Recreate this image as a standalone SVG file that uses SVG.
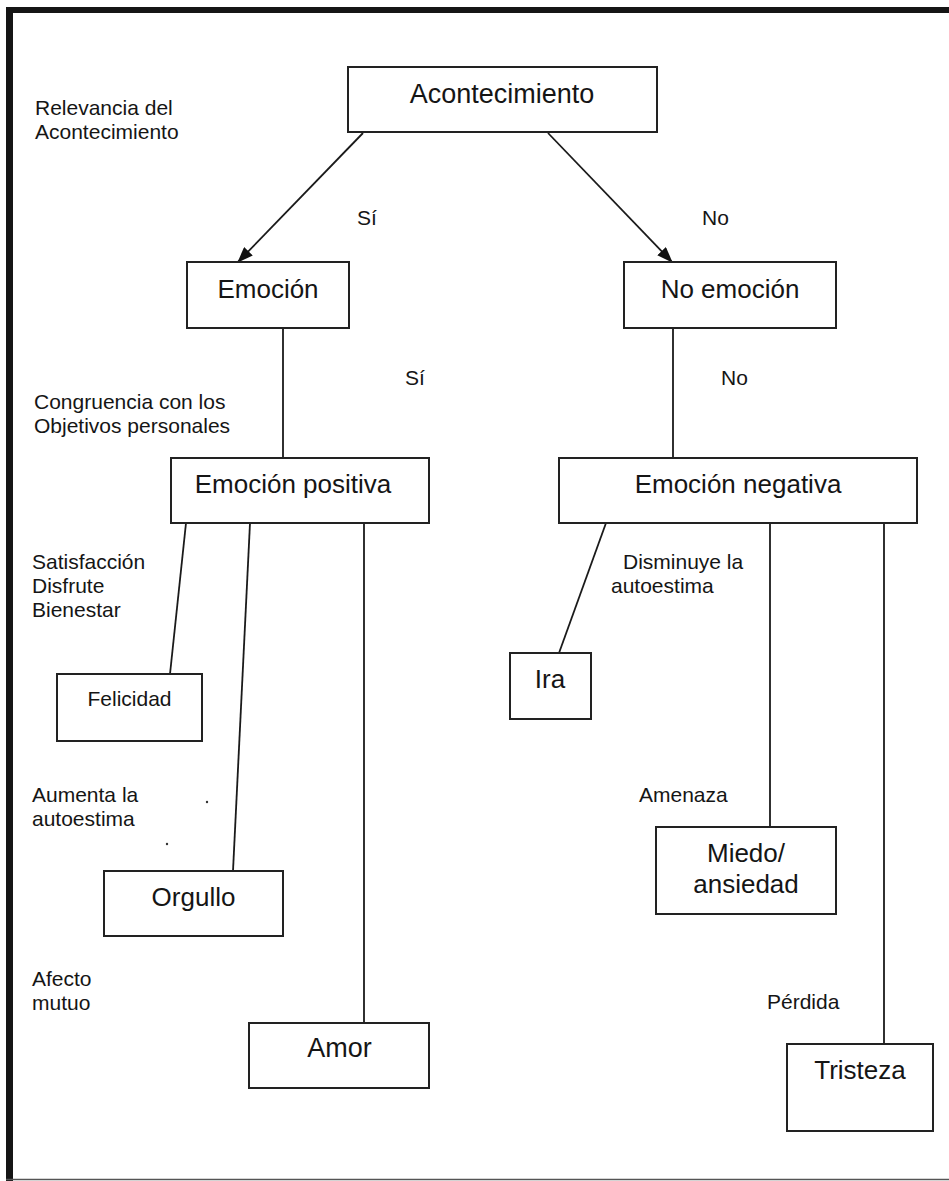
<svg xmlns="http://www.w3.org/2000/svg" width="949" height="1181" viewBox="0 0 949 1181">
<style>
text{font-family:"Liberation Sans",Arial,sans-serif;fill:#151515}
.lbl{font-size:21px}
.big{font-size:26px;text-anchor:middle}
.box{fill:#fff;stroke:#222;stroke-width:2}
.ln{stroke:#1a1a1a;stroke-width:1.8;fill:none}
</style>
<defs>
<marker id="ah" viewBox="0 0 16 12" refX="15" refY="6" markerWidth="16" markerHeight="12" markerUnits="userSpaceOnUse" orient="auto">
<path d="M0,0 L16,6 L0,12 Z" fill="#111"/>
</marker>
</defs>
<rect width="949" height="1181" fill="#fff"/>
<g id="frame">
<rect x="6" y="7" width="943" height="6" fill="#151515"/>
<rect x="6" y="7" width="7" height="1174" fill="#151515"/>
<line x1="6" y1="1179.5" x2="949" y2="1179.5" stroke="#555" stroke-width="1.5"/>
</g>
<g id="connectors">
<line class="ln" x1="363" y1="133" x2="238" y2="262" marker-end="url(#ah)"/>
<line class="ln" x1="548" y1="133" x2="672" y2="262" marker-end="url(#ah)"/>
<line class="ln" x1="283" y1="328" x2="283" y2="458"/>
<line class="ln" x1="673" y1="328" x2="673" y2="458"/>
<line class="ln" x1="186" y1="523" x2="170" y2="674"/>
<line class="ln" x1="250" y1="523" x2="233" y2="871"/>
<line class="ln" x1="364" y1="523" x2="364" y2="1023"/>
<line class="ln" x1="606" y1="523" x2="559" y2="653"/>
<line class="ln" x1="770" y1="523" x2="770" y2="827"/>
<line class="ln" x1="884" y1="523" x2="884" y2="1044"/>
</g>
<g id="labels">
<text class="lbl" x="35" y="115">Relevancia del</text>
<text class="lbl" x="35" y="139">Acontecimiento</text>
<text class="lbl" x="357" y="225">Sí</text>
<text class="lbl" x="702" y="225">No</text>
<text class="lbl" x="405" y="385">Sí</text>
<text class="lbl" x="721" y="385">No</text>
<text class="lbl" x="34" y="409">Congruencia con los</text>
<text class="lbl" x="34" y="433">Objetivos personales</text>
<text class="lbl" x="32" y="569">Satisfacción</text>
<text class="lbl" x="32" y="593">Disfrute</text>
<text class="lbl" x="32" y="617">Bienestar</text>
<text class="lbl" x="623" y="569">Disminuye la</text>
<text class="lbl" x="611" y="593">autoestima</text>
<text class="lbl" x="32" y="802">Aumenta la</text>
<text class="lbl" x="32" y="826">autoestima</text>
<text class="lbl" x="639" y="802">Amenaza</text>
<text class="lbl" x="32" y="986">Afecto</text>
<text class="lbl" x="32" y="1010">mutuo</text>
<text class="lbl" x="767" y="1009">Pérdida</text>
<circle cx="207" cy="802" r="1.2" fill="#333"/>
<circle cx="167" cy="844" r="1.2" fill="#333"/>
</g>
<g id="acontecimiento">
<rect class="box" x="348" y="67" width="309" height="65"/>
<text class="big" x="502" y="103" style="font-size:27px">Acontecimiento</text>
</g>
<g id="emocion">
<rect class="box" x="187" y="262" width="162" height="66"/>
<text class="big" x="268" y="298">Emoción</text>
</g>
<g id="no-emocion">
<rect class="box" x="624" y="262" width="212" height="66"/>
<text class="big" x="730" y="298">No emoción</text>
</g>
<g id="emocion-positiva">
<rect class="box" x="171" y="458" width="258" height="65"/>
<text class="big" x="293" y="493">Emoción positiva</text>
</g>
<g id="emocion-negativa">
<rect class="box" x="559" y="458" width="358" height="65"/>
<text class="big" x="738" y="493">Emoción negativa</text>
</g>
<g id="felicidad">
<rect class="box" x="57" y="674" width="145" height="67"/>
<text class="big" x="129.5" y="706" style="font-size:21px">Felicidad</text>
</g>
<g id="ira">
<rect class="box" x="510" y="653" width="81" height="66"/>
<text class="big" x="550" y="688">Ira</text>
</g>
<g id="orgullo">
<rect class="box" x="104" y="871" width="179" height="65"/>
<text class="big" x="193.5" y="906">Orgullo</text>
</g>
<g id="amor">
<rect class="box" x="249" y="1023" width="180" height="65"/>
<text class="big" x="339.5" y="1057" style="font-size:27px">Amor</text>
</g>
<g id="miedo">
<rect class="box" x="656" y="827" width="180" height="87"/>
<text class="big" x="746" y="862">Miedo/</text>
<text class="big" x="746" y="893">ansiedad</text>
</g>
<g id="tristeza">
<rect class="box" x="787" y="1044" width="146" height="87"/>
<text class="big" x="860" y="1079">Tristeza</text>
</g>
</svg>
